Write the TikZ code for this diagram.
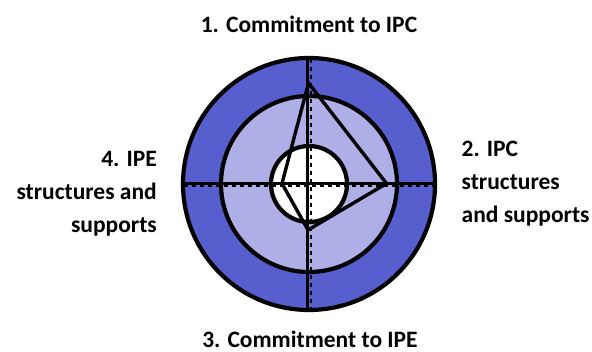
\documentclass[tikz,border=0pt]{standalone}
\usepackage{fontspec}
\setmainfont{Carlito}
\definecolor{ringdark}{RGB}{87,95,207}
\definecolor{ringlight}{RGB}{173,175,230}
\tikzset{
  ring/.style={line width=4.2pt, draw=black},
  axis/.style={line width=3.4pt, draw=black},
  axisdash/.style={line width=1.8pt, draw=black, dash pattern=on 4pt off 4pt},
  poly/.style={line width=3.4pt, draw=black, line join=miter},
  lbl/.style={font=\fontsize{23.5}{33}\selectfont\bfseries, inner sep=0pt}
}
\begin{document}
\begin{tikzpicture}[x=1pt,y=-1pt]
\useasboundingbox (0,0) rectangle (592,352);
% circles
\coordinate (c) at (309,184);
\fill[ringdark] (c) circle (126);
\draw[ring] (c) circle (126);
\fill[ringlight] (c) circle (88);
\draw[ring] (c) circle (88);
\fill[white] (c) circle (38);
\draw[ring] (c) circle (38);
% axes
\coordinate (vt) at (307.7,58);
\coordinate (vb) at (307.7,310);
\coordinate (hl) at (183,183.5);
\coordinate (hr) at (435,183.5);
\coordinate (vdt) at (310.8,59);
\coordinate (vdb) at (310.8,309);
\coordinate (hdl) at (184,185.8);
\coordinate (hdr) at (434,185.8);
\draw[axisdash] (vdt) -- (vdb);
\draw[axisdash] (hdl) -- (hdr);
\draw[axis] (vt) -- (vb);
\draw[axis] (hl) -- (hr);
% polygon
\coordinate (pt) at (308.5,83);
\coordinate (pr) at (386.5,183.5);
\coordinate (pb) at (308,230);
\coordinate (pl) at (282,183.5);
\draw[poly] (pt) -- (pr) -- (pb) -- (pl) -- cycle;
% labels
\node[lbl, anchor=base] (t1) at (309,33) {1. Commitment to IPC};
\node[lbl, anchor=base] (t3) at (310,347.5) {3. Commitment to IPE};
\node[lbl, anchor=north west, align=left] (t2) at (461.5,141) {2. IPC\\structures\\and supports};
\node[lbl, anchor=north east, align=right] (t4) at (157,151) {4. IPE\\structures and\\supports};
\end{tikzpicture}
\end{document}
